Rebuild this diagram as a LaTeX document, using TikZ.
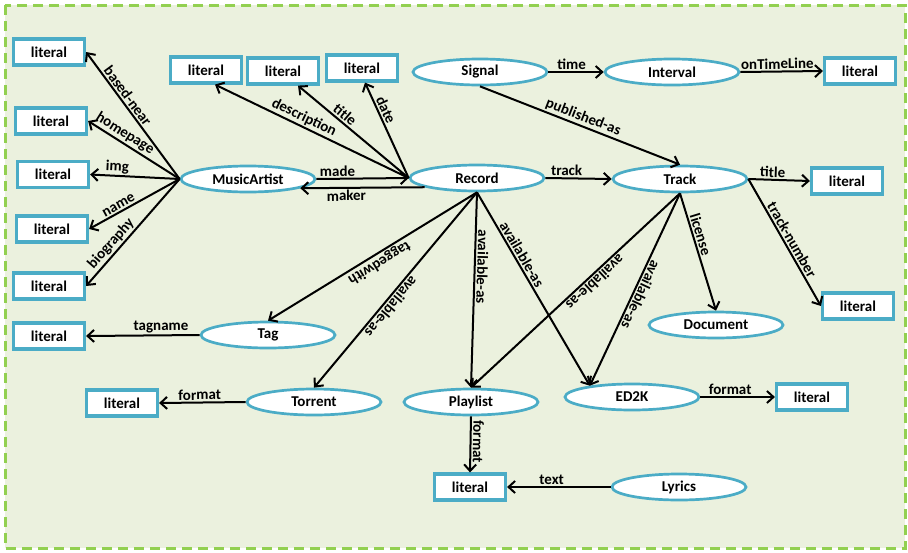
\documentclass[tikz,border=0pt]{standalone}
\usepackage{fontspec}
\setmainfont{Carlito}
\usetikzlibrary{shapes.geometric,arrows.meta}
\definecolor{frameGreen}{HTML}{92D050}
\definecolor{paneFill}{HTML}{EBF1DE}
\definecolor{rimBlue}{HTML}{4BACC6}
\begin{document}
\begin{tikzpicture}[x=1pt,y=-1pt,
  every node/.style={font=\fontsize{15}{18}\selectfont\bfseries},
  cls/.style={ellipse, draw=rimBlue, line width=2.7pt, fill=white,
    minimum width=134pt, minimum height=26pt, inner sep=0pt},
  lit/.style={rectangle, draw=rimBlue, line width=3.2pt, fill=white,
    minimum width=71pt, minimum height=26pt, inner sep=0pt},
  rel/.style={draw=black, line width=2pt, -{Straight Barb[length=6.5pt,width=12pt]}},
  lab/.style={sloped, above, inner sep=1.5pt},
  labb/.style={sloped, below, inner sep=1.5pt},
  flab/.style={sloped, allow upside down, above, inner sep=1.5pt}
]
% canvas and dashed frame
\useasboundingbox (0,0) rectangle (908,552);
\draw[frameGreen, line width=3pt, dash pattern=on 10pt off 6pt, fill=paneFill]
  (5,5) rectangle (905,548);

% classes
\node[cls] (ma)  at (248,179) {MusicArtist};
\node[cls] (rec) at (477,178) {Record};
\node[cls] (sig) at (480,72)  {Signal};
\node[cls] (ivl) at (672,72)  {Interval};
\node[cls] (trk) at (680,179) {Track};
\node[cls] (tag) at (268,335) {Tag};
\node[cls] (tor) at (314,402) {Torrent};
\node[cls] (pl)  at (471,402) {Playlist};
\node[cls] (ed)  at (632,397) {ED2K};
\node[cls] (doc) at (716,325) {Document};
\node[cls] (lyr) at (679,487) {Lyrics};

% literal values
\node[lit] (l1)  at (49,52)    {literal};
\node[lit] (l2)  at (51,121)   {literal};
\node[lit] (l3)  at (53,174.5) {literal};
\node[lit] (l4)  at (52,229)   {literal};
\node[lit] (l5)  at (49,286)   {literal};
\node[lit] (l6)  at (49,336)   {literal};
\node[lit] (l7)  at (122,403)  {literal};
\node[lit] (l8)  at (206,70)   {literal};
\node[lit] (l9)  at (283,71)   {literal};
\node[lit] (l10) at (362,68)   {literal};
\node[lit] (l11) at (860,71)   {literal};
\node[lit] (l12) at (847,181)  {literal};
\node[lit] (l13) at (858,306)  {literal};
\node[lit] (l14) at (812,397)  {literal};
\node[lit] (l15) at (470,487)  {literal};

% MusicArtist properties
\draw[rel] (ma.west) -- node[lab,pos=.62]{based-near} (l1.east);
\draw[rel] (ma.west) -- node[lab,pos=.65]{homepage} (l2.east);
\draw[rel] (ma.west) -- node[lab,pos=.70]{img} (l3.east);
\draw[rel] (ma.west) -- node[lab,pos=.64]{name} (l4.east);
\draw[rel] (ma.west) -- node[lab,pos=.66]{biography} (l5.east);

% Record properties
\draw[rel] (rec.west) -- node[lab,pos=.56]{description} ([xshift=9pt]l8.south);
\draw[rel] (rec.west) -- node[lab,pos=.62]{title} ([xshift=15pt]l9.south);
\draw[rel] (rec.west) -- node[lab,pos=.68]{date} ([xshift=3pt]l10.south);
\draw[rel] (ma.east) -- node[lab,pos=.23]{made} (rec.west);
\draw[rel] (rec.190) -- node[labb,pos=.63]{maker} (ma.-10);
\draw[rel] (rec.east) -- node[lab,pos=.32]{track} (trk.west);
\draw[rel] (rec.south) -- node[flab,pos=.49]{taggedwith} (tag.north);
\draw[rel] (rec.south) -- node[flab,pos=.56]{available-as} (tor.north);
\draw[rel] (rec.south) -- node[flab,pos=.38]{available-as} (pl.north);
\draw[rel] (rec.south) -- node[flab,pos=.34]{available-as} (ed.165);

% Signal and Interval
\draw[rel] (sig.east) -- node[lab,pos=.42]{time} (ivl.west);
\draw[rel] (ivl.east) -- node[lab,pos=.45]{onTimeLine} (l11.west);
\draw[rel] (sig.south) -- node[flab,pos=.5]{published-as} (trk.north);

% Track properties
\draw[rel] (trk.east) -- node[lab,pos=.39]{title} (l12.west);
\draw[rel] (trk.east) -- node[flab,pos=.51]{track-number} (l13.west);
\draw[rel] (trk.south) -- node[flab,pos=.37]{license} (doc.north);
\draw[rel] (trk.south) -- node[flab,pos=.51]{available-as} (ed.165);
\draw[rel] (trk.south) -- node[flab,pos=.43]{available-as} (pl.north);

% remaining properties
\draw[rel] (tag.west) -- node[lab,pos=.34]{tagname} (l6.east);
\draw[rel] (tor.west) -- node[lab,pos=.53]{format} (l7.east);
\draw[rel] (pl.south) -- node[flab,pos=.45]{format} (l15.north);
\draw[rel] (ed.east) -- node[lab,pos=.4]{format} (l14.west);
\draw[rel] (lyr.west) -- node[lab,pos=.57]{text} (l15.east);
\end{tikzpicture}
\end{document}
